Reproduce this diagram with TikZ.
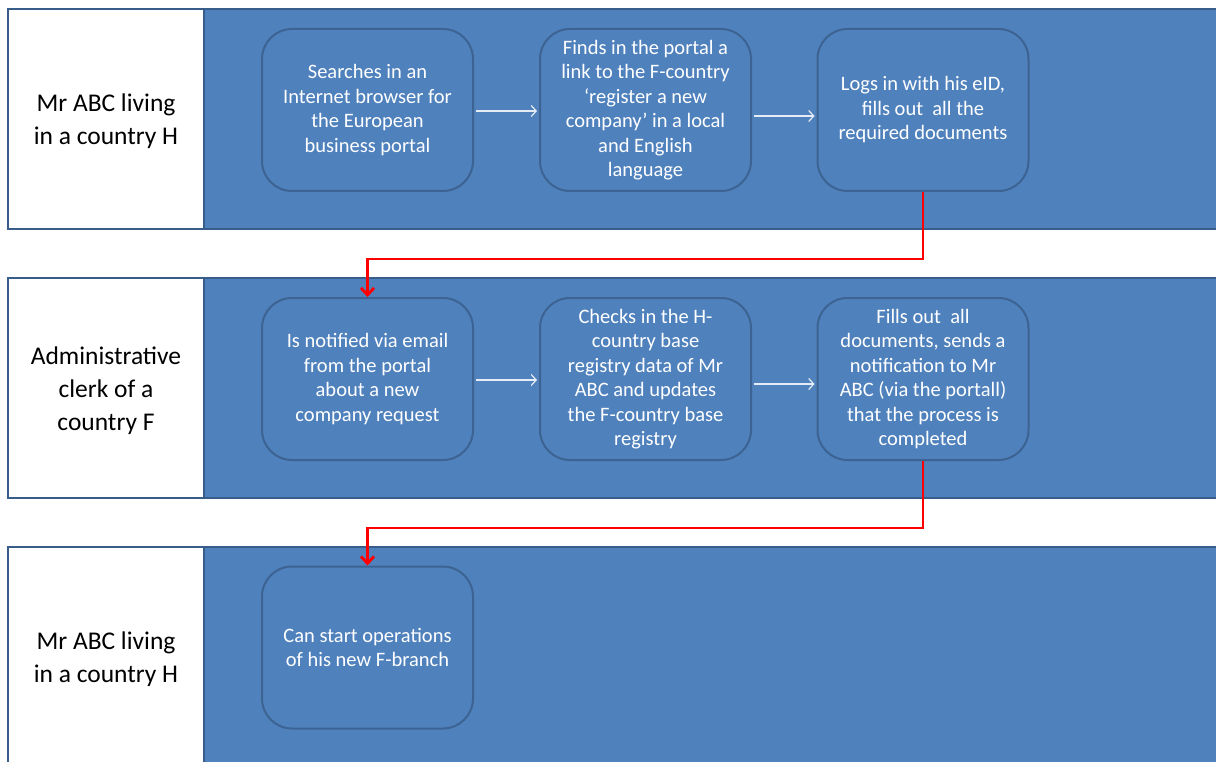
\documentclass[tikz,border=0pt]{standalone}
\usepackage{fontspec}
\setmainfont{Carlito}
\usetikzlibrary{arrows.meta,calc}
\definecolor{lanefill}{HTML}{4F81BD}
\definecolor{laneline}{HTML}{385D8A}
\definecolor{boxline}{HTML}{3C6392}
\tikzset{
  x=1pt, y=-1pt,
  lanebg/.style={fill=lanefill, draw=laneline, line width=2.5pt},
  lanelabel/.style={fill=white, draw=laneline, line width=2.5pt},
  labeltext/.style={align=center, text=black, font=\fontsize{25.5}{33}\selectfont},
  stepbox/.style={rounded corners=30pt, fill=lanefill, draw=boxline, line width=2pt,
    minimum width=211pt, minimum height=162pt, inner sep=0pt, align=center,
    text=white, font=\fontsize{20.5}{24.5}\selectfont},
  flow/.style={draw=white!85!lanefill, line width=1.2pt, shorten <=2pt, shorten >=2pt,
    -{Straight Barb[length=5pt,width=11pt]}},
  handover/.style={draw=red, line width=2.8pt, -{Straight Barb[length=7pt,width=13pt]}},
}
\begin{document}
\begin{tikzpicture}
\useasboundingbox (0,0) rectangle (1216,762);
\clip (0,0) rectangle (1216,762);

% swimlanes: blue band with a white caption cell on the left
\foreach \t in {9,278,547} {
  \draw[lanebg] (8,\t) rectangle (1240,\t+220);
  \draw[lanelabel] (8,\t) rectangle (204,\t+220);
}

% lane captions
\node[labeltext] (lane1) at (106,121) {Mr ABC living\\in a country H};
\node[labeltext] (lane2) at (106,391) {Administrative\\clerk of a\\country F};
\node[labeltext] (lane3) at (106,659) {Mr ABC living\\in a country H};

% process steps
\node[stepbox] (b1) at (367.5,110) {Searches in an\\Internet browser for\\the European\\business portal};
\node[stepbox] (b2) at (645.5,110) {Finds in the portal a\\link to the F-country\\‘register a new\\company’ in a local\\and English\\language};
\node[stepbox] (b3) at (923,110) {Logs in with his eID,\\fills out\ \ all the\\required documents};

\node[stepbox] (b4) at (367.5,379) {Is notified via email\\from the portal\\about a new\\company request};
\node[stepbox] (b5) at (645.5,379) {Checks in the H-\\country base\\registry data of Mr\\ABC and updates\\the F-country base\\registry};
\node[stepbox] (b6) at (923,379) {Fills out\ \ all\\documents, sends a\\notification to Mr\\ABC (via the portall)\\that the process is\\completed};

\node[stepbox] (b7) at (367.5,647.5) {Can start operations\\of his new F-branch};

% flow within a lane
\draw[flow] ([yshift=-1pt]b1.east) -- ([yshift=-1pt]b2.west);
\draw[flow] ([yshift=-6pt]b2.east) -- ([yshift=-6pt]b3.west);
\draw[flow] ([yshift=-1pt]b4.east) -- ([yshift=-1pt]b5.west);
\draw[flow] ([yshift=-5pt]b5.east) -- ([yshift=-5pt]b6.west);

% hand-over between lanes
\draw[handover] (b3.south) -- ++(0,67) -| (b4.north);
\draw[handover] (b6.south) -- ++(0,67) -| (b7.north);
\end{tikzpicture}
\end{document}
